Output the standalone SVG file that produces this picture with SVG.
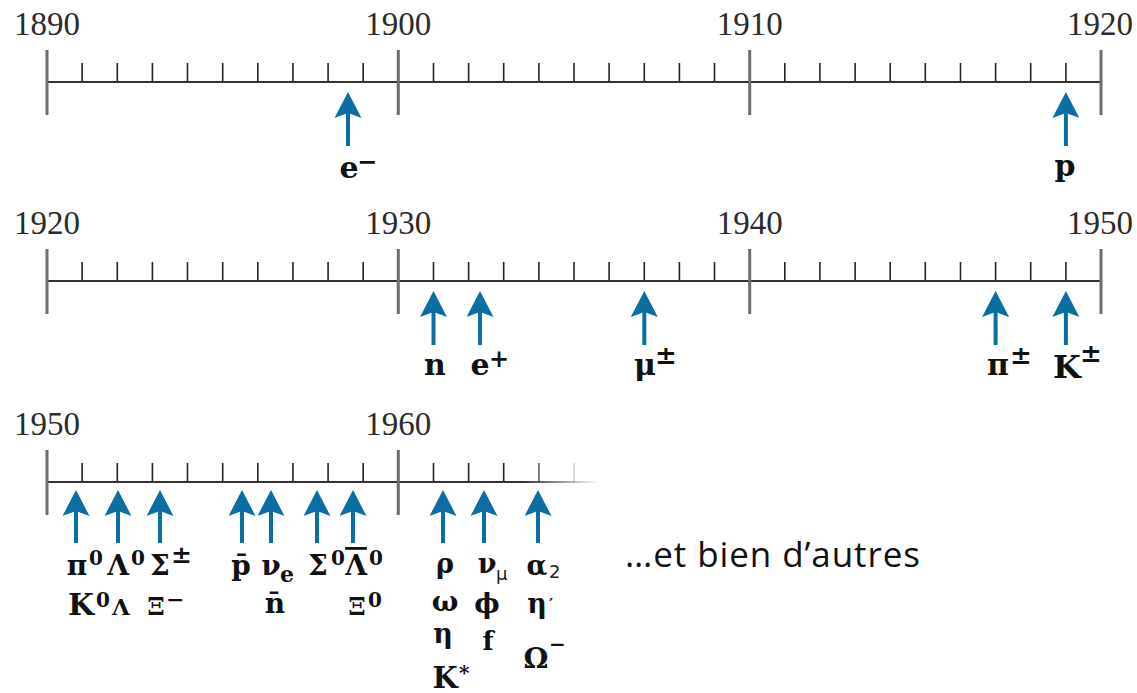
<svg xmlns="http://www.w3.org/2000/svg" xmlns:xlink="http://www.w3.org/1999/xlink" width="1137" height="693" viewBox="0 0 1137 693">
<style>
.axis{stroke:#333;stroke-width:2.2;fill:none}
.major{stroke:#6e6e6e;stroke-width:3;fill:none}
.minor{stroke:#222;stroke-width:1.6;fill:none}
.yr{font-family:"Liberation Serif",serif;font-size:33px;fill:#2b2b2b;text-anchor:middle}
.p{font-family:"DejaVu Serif",serif;font-weight:bold;fill:#111;text-anchor:middle}
.s{font-family:"DejaVu Serif",serif;font-weight:bold;fill:#111}
.ov{text-decoration:overline}
.lt{font-family:"DejaVu Sans",sans-serif;fill:#222}
.note{font-family:"Open Sans","Liberation Sans",sans-serif;font-size:35px;fill:#111}
.arr{stroke:#0b6ea3;stroke-width:4;fill:none;marker-end:url(#head)}
</style>
<defs>
<marker id="head" markerUnits="userSpaceOnUse" viewBox="0 0 26 27" markerWidth="26" markerHeight="27" refX="16" refY="13.5" orient="auto">
<path d="M0,0 L26,13.5 L0,27 L5,13.5 Z" fill="#0b6ea3"/>
</marker>
<linearGradient id="fade" gradientUnits="userSpaceOnUse" x1="47" y1="0" x2="600" y2="0">
<stop offset="0" stop-color="#333"/>
<stop offset="0.86" stop-color="#333"/>
<stop offset="1" stop-color="#333" stop-opacity="0"/>
</linearGradient>
<g id="scale">
<path class="minor" d="M82.1,-19V0M117.3,-19V0M152.4,-19V0M187.5,-19V0M222.7,-19V0M257.8,-19V0M292.9,-19V0M328.1,-19V0M363.2,-19V0M433.5,-19V0M468.6,-19V0M503.7,-19V0M538.9,-19V0M574,-19V0M609.1,-19V0M644.3,-19V0M679.4,-19V0M714.5,-19V0M784.8,-19V0M819.9,-19V0M855.1,-19V0M890.2,-19V0M925.3,-19V0M960.5,-19V0M995.6,-19V0M1030.7,-19V0M1065.9,-19V0"/>
<path class="axis" d="M47,0H1101"/>
<path class="major" d="M47,-32V33M398.3,-32V33M749.7,-32V33M1101,-32V33"/>
</g>
</defs>

<g id="row-1890-1920">
<use xlink:href="#scale" href="#scale" transform="translate(0,82)"/>
<text class="yr" x="47" y="35">1890</text>
<text class="yr" x="398.3" y="35">1900</text>
<text class="yr" x="749.7" y="35">1910</text>
<text class="yr" x="1100" y="35">1920</text>
</g>

<g id="row-1920-1950">
<use xlink:href="#scale" href="#scale" transform="translate(0,281)"/>
<text class="yr" x="47" y="234">1920</text>
<text class="yr" x="398.3" y="234">1930</text>
<text class="yr" x="749.7" y="234">1940</text>
<text class="yr" x="1100" y="234">1950</text>
</g>

<g id="row-1950-1965">
<path class="minor" d="M82.1,463V482M117.3,463V482M152.4,463V482M187.5,463V482M222.7,463V482M257.8,463V482M292.9,463V482M328.1,463V482M363.2,463V482M433.5,463V482M468.6,463V482M503.7,463V482"/>
<path class="minor" d="M538.9,463V482" stroke-opacity="0.7"/>
<path class="minor" d="M574,463V482" stroke-opacity="0.2"/>
<path d="M47,482H600" stroke="url(#fade)" stroke-width="2.2" fill="none"/>
<path class="major" d="M47,450V515M398.3,450V515"/>
<text class="yr" x="47" y="435">1950</text>
<text class="yr" x="398.3" y="435">1960</text>
</g>

<g id="connectors">
<line class="arr" x1="348" y1="146" x2="348" y2="102"/>
<line class="arr" x1="1065.9" y1="146" x2="1065.9" y2="102"/>
<line class="arr" x1="433.5" y1="345" x2="433.5" y2="301"/>
<line class="arr" x1="480" y1="345" x2="480" y2="301"/>
<line class="arr" x1="644.3" y1="345" x2="644.3" y2="301"/>
<line class="arr" x1="995.6" y1="345" x2="995.6" y2="301"/>
<line class="arr" x1="1065.9" y1="345" x2="1065.9" y2="301"/>
<line class="arr" x1="76" y1="543" x2="76" y2="500"/>
<line class="arr" x1="118" y1="543" x2="118" y2="500"/>
<line class="arr" x1="160" y1="543" x2="160" y2="500"/>
<line class="arr" x1="242" y1="543" x2="242" y2="500"/>
<line class="arr" x1="271" y1="543" x2="271" y2="500"/>
<line class="arr" x1="317" y1="543" x2="317" y2="500"/>
<line class="arr" x1="353" y1="543" x2="353" y2="500"/>
<line class="arr" x1="443" y1="543" x2="443" y2="500"/>
<line class="arr" x1="484" y1="543" x2="484" y2="500"/>
<line class="arr" x1="538" y1="543" x2="538" y2="500"/>
</g>

<g id="label-electron"><text class="p" x="349" y="178" font-size="30">e</text><text class="s" x="357" y="170" font-size="24">−</text></g>
<g id="label-proton"><text class="p" x="1065" y="176" font-size="30">p</text></g>

<g id="label-neutron"><text class="p" x="435" y="375" font-size="30">n</text></g>
<g id="label-positron"><text class="p" x="480" y="375" font-size="30">e</text><text class="s" x="489" y="367" font-size="24">+</text></g>
<g id="label-muon"><text class="p" x="645" y="375" font-size="30">μ</text><text class="s" x="655" y="364" font-size="26">±</text></g>
<g id="label-pion"><text class="p" x="998" y="375" font-size="30">π</text><text class="s" x="1010" y="364" font-size="26">±</text></g>
<g id="label-kaon"><text class="p" x="1067" y="378" font-size="32">K</text><text class="s" x="1080" y="362" font-size="26">±</text></g>

<g id="labels-1950s">
<text class="p" x="77" y="575" font-size="28">π</text><text class="s" x="89" y="565" font-size="20">0</text>
<text class="p" x="118" y="575" font-size="28">Λ</text><text class="s" x="131" y="565" font-size="20">0</text>
<text class="p" x="160" y="575" font-size="28">Σ</text><text class="s" x="171" y="563" font-size="25">±</text>
<text class="p" x="241" y="575" font-size="28">p̄</text>
<text class="p" x="271" y="575" font-size="28">ν</text><text class="s" x="280" y="582" font-size="22">e</text>
<text class="p" x="318" y="575" font-size="28">Σ</text><text class="s" x="331" y="565" font-size="20">0</text>
<text class="p ov" x="356" y="575" font-size="28">Λ</text><text class="s" x="369" y="565" font-size="20">0</text>
<text class="p" x="81" y="615" font-size="30">K</text><text class="s" x="96" y="607" font-size="20">0</text>
<text class="p" x="121" y="615" font-size="23">Λ</text>
<text class="p" x="156" y="615" font-size="25">Ξ</text><text class="s" x="166" y="607" font-size="22">−</text>
<text class="p" x="275" y="613" font-size="28">n̄</text>
<text class="p" x="357" y="615" font-size="25">Ξ</text><text class="s" x="368" y="607" font-size="20">0</text>
</g>

<g id="labels-1960s">
<text class="p" x="445" y="573" font-size="27">ρ</text>
<text class="p" x="487" y="573" font-size="27">ν</text><text class="lt" x="496" y="580" font-size="18">μ</text>
<text class="p" x="537" y="575" font-size="27">α</text><text class="lt" x="549" y="578" font-size="18">2</text>
<text class="p" x="445" y="611" font-size="28">ω</text>
<text class="p" x="487" y="613" font-size="27">ϕ</text>
<text class="p" x="537" y="613" font-size="27">η</text><text class="s" x="549" y="610" font-size="16">′</text>
<text class="p" x="443" y="643" font-size="27">η</text>
<text class="p" x="488" y="650" font-size="26">f</text>
<text class="p" x="536" y="668" font-size="28">Ω</text><text class="s" x="549" y="651" font-size="20">−</text>
<text class="p" x="445" y="688" font-size="29">K</text><text class="s" x="459" y="680" font-size="20">*</text>
</g>

<g id="note"><text class="note" x="625" y="567" textLength="295" lengthAdjust="spacing">…et bien d’autres</text></g>
</svg>
